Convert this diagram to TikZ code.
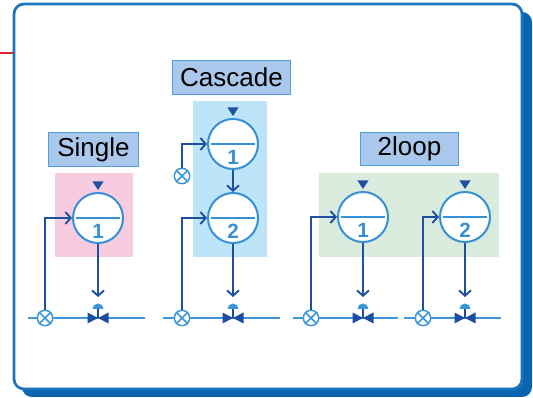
\documentclass[tikz,border=0pt]{standalone}
\usepackage{fontspec}
\setmainfont{Liberation Sans}
\usepackage{tikz}
\usetikzlibrary{arrows.meta}
\definecolor{framecol}{HTML}{1B74C0}
\definecolor{shadowcol}{HTML}{0A64AE}
\definecolor{redcol}{HTML}{D9262E}
\definecolor{labelfill}{HTML}{A9C8EC}
\definecolor{labeldraw}{HTML}{4BA2DF}
\definecolor{pinkbg}{HTML}{F7CCE1}
\definecolor{bluebg}{HTML}{BDE4F8}
\definecolor{greenbg}{HTML}{D8EBDC}
\definecolor{ctrlcol}{HTML}{3690D6}
\definecolor{sigcol}{HTML}{1E4FA3}
\definecolor{pipecol}{HTML}{3A97D9}
\definecolor{valvecol}{HTML}{1B4EA0}

\begin{document}
\begin{tikzpicture}[x=0.75pt,y=-0.75pt,
  title/.style={draw=labeldraw,fill=labelfill,line width=0.9pt,minimum height=25pt,inner sep=0pt,font=\fontsize{19.5}{22}\selectfont},
  ctrl/.style={circle,draw=ctrlcol,fill=white,line width=1.5pt,minimum size=37.5pt,inner sep=0pt},
  num/.style={text=ctrlcol,font=\bfseries\fontsize{15.5}{17}\selectfont,inner sep=0pt},
  sensor/.style={circle,draw=pipecol,fill=white,line width=1.1pt,minimum size=11.5pt,inner sep=0pt},
  sig/.style={draw=sigcol,line width=1.4pt,-{Straight Barb[length=4pt,width=9pt]}},
  pipe/.style={draw=pipecol,line width=1.6pt}]
\useasboundingbox (0,0) rectangle (533,398);
\fill[shadowcol,rounded corners=7.5pt] (22,12) rectangle (532,397);
\draw[framecol,fill=white,line width=2pt,rounded corners=7.5pt] (14,4) rectangle (522,389);
\draw[redcol,line width=1.2pt] (0,53) -- (13,53);
\fill[pinkbg] (55,173) rectangle (133,257);
\fill[bluebg] (193,101) rectangle (267,257);
\fill[greenbg] (319,173) rectangle (499,257);
\node[title,minimum width=68pt] (single) at (93.5,149.5) {Single};
\node[title,minimum width=89pt] (cascade) at (231.5,77.5) {Cascade};
\node[title,minimum width=73pt] (twoloop) at (409.5,149) {2loop};
\foreach \a/\b in {28/145,163/280,293/398,404/501}
  \draw[pipe] (\a,318) -- (\b,318);
\foreach \ctl/\x/\y/\lbl in {s1/98/218/1,k1/233/144/1,k2/233/218/2,t1/363/217/1,t2/465/217/2} {
  \node[ctrl] (\ctl) at (\x,\y) {};
  \draw[ctrlcol,line width=1.5pt,shorten <=3pt,shorten >=3pt] (\ctl.west) -- (\ctl.east);
  \node[num] (\ctl-n) at ([yshift=-9.75pt]\ctl.center) {\lbl};
}
\foreach \ctl in {s1,k1,t1,t2}
  \fill[sigcol] (\ctl.north) ++(0,-2) -- ++(-5.5,-8.5) -- ++(11,0) -- cycle;
\foreach \sen/\x/\y in {se1/45/318,ke1/182/176,ke2/182/318,te1/311/318,te2/423/318} {
  \node[sensor] (\sen) at (\x,\y) {};
  \draw[pipecol,line width=1.1pt] (\sen.north west) -- (\sen.south east) (\sen.north east) -- (\sen.south west);
}
\foreach \v/\x in {v1/98,v2/233,v3/363,v4/465} {
  \coordinate (\v) at (\x,318);
  \coordinate (\v-top) at (\x,297);
  \draw[valvecol,line width=1pt] (\v) -- ++(0,-10);
  \fill[pipecol] (\v) ++(-5.5,-9) arc[start angle=180,end angle=360,radius=5.5] -- cycle;
  \fill[valvecol] (\v) ++(-10.5,-5.5) -- ++(0,11) -- ++(21,-11) -- ++(0,11) -- cycle;
}
\draw[sig] (se1) |- (s1);
\draw[sig] (ke1) |- (k1);
\draw[sig] (ke2) |- (k2);
\draw[sig] (te1) |- (t1);
\draw[sig] (te2) |- (t2);
\draw[sig] (k1) -- (k2);
\foreach \ctl/\v in {s1/v1,k2/v2,t1/v3,t2/v4}
  \draw[sig] (\ctl) -- (\v-top);
\end{tikzpicture}
\end{document}
